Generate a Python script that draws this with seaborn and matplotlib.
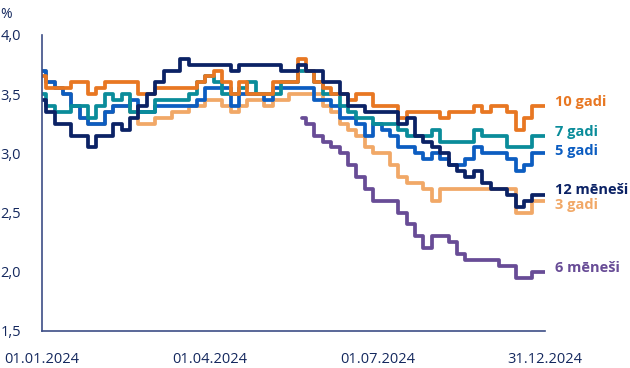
import numpy as np
import pandas as pd
import matplotlib
matplotlib.use('Agg')
import matplotlib.pyplot as plt
import seaborn as sns

# weekly-ish sampling points across 2024 (61 points, 01.01 .. 31.12)
tick_labels = ['01.01.2024', '01.04.2024', '01.07.2024', '31.12.2024']

nan = np.nan
y10 = [3.65, 3.55, 3.55, 3.55, 3.6, 3.6, 3.5, 3.55, 3.6, 3.6,
       3.6, 3.6, 3.5, 3.5, 3.55, 3.55, 3.55, 3.55, 3.55, 3.6,
       3.65, 3.7, 3.6, 3.5, 3.6, 3.5, 3.5, 3.5, 3.6, 3.6,
       3.6, 3.8, 3.7, 3.6, 3.55, 3.5, 3.5, 3.45, 3.5, 3.5,
       3.4, 3.4, 3.4, 3.3, 3.35, 3.35, 3.35, 3.35, 3.3, 3.35,
       3.35, 3.35, 3.4, 3.35, 3.4, 3.4, 3.35, 3.2, 3.3, 3.4, 3.4]
y7 = [3.5, 3.4, 3.35, 3.35, 3.4, 3.4, 3.3, 3.4, 3.5, 3.45,
      3.5, 3.35, 3.35, 3.35, 3.45, 3.45, 3.45, 3.45, 3.5, 3.6,
      3.65, 3.6, 3.5, 3.5, 3.55, 3.6, 3.5, 3.5, 3.5, 3.6,
      3.6, 3.7, 3.7, 3.6, 3.5, 3.5, 3.4, 3.35, 3.3, 3.3,
      3.25, 3.25, 3.25, 3.2, 3.15, 3.15, 3.15, 3.2, 3.1, 3.1,
      3.1, 3.1, 3.2, 3.15, 3.15, 3.15, 3.05, 3.05, 3.05, 3.15, 3.15]
y5 = [3.7, 3.6, 3.55, 3.5, 3.4, 3.3, 3.25, 3.25, 3.35, 3.4,
      3.4, 3.45, 3.35, 3.35, 3.4, 3.4, 3.4, 3.4, 3.4, 3.45,
      3.55, 3.55, 3.55, 3.4, 3.5, 3.5, 3.5, 3.45, 3.55, 3.55,
      3.55, 3.55, 3.55, 3.45, 3.45, 3.4, 3.3, 3.3, 3.25, 3.15,
      3.25, 3.2, 3.15, 3.05, 3.05, 3.0, 2.95, 3.0, 2.95, 2.9,
      2.9, 2.95, 3.05, 3.0, 3.0, 3.0, 2.95, 2.85, 2.9, 3.0, 3.0]
y12m = [3.45, 3.35, 3.25, 3.25, 3.15, 3.15, 3.05, 3.15, 3.15, 3.25,
        3.2, 3.3, 3.4, 3.5, 3.6, 3.7, 3.7, 3.8, 3.75, 3.75,
        3.75, 3.75, 3.75, 3.7, 3.75, 3.75, 3.75, 3.75, 3.75, 3.7,
        3.7, 3.75, 3.7, 3.7, 3.6, 3.6, 3.5, 3.4, 3.4, 3.35,
        3.35, 3.35, 3.35, 3.25, 3.3, 3.15, 3.1, 3.05, 3.0, 2.9,
        2.85, 2.8, 2.85, 2.75, 2.7, 2.7, 2.65, 2.55, 2.6, 2.65, 2.65]
y3 = [3.7, 3.6, 3.55, 3.5, 3.4, 3.3, 3.25, 3.25, 3.35, 3.4,
      3.4, 3.35, 3.25, 3.25, 3.3, 3.3, 3.35, 3.35, 3.4, 3.4,
      3.45, 3.45, 3.4, 3.35, 3.4, 3.45, 3.45, 3.4, 3.45, 3.45,
      3.5, 3.5, 3.5, 3.5, 3.4, 3.35, 3.25, 3.2, 3.15, 3.05,
      3.0, 3.0, 2.9, 2.8, 2.75, 2.75, 2.7, 2.6, 2.7, 2.7,
      2.7, 2.7, 2.7, 2.7, 2.7, 2.7, 2.7, 2.5, 2.5, 2.6, 2.6]
y6m = [nan] * 31 + [
       3.3, 3.25, 3.15, 3.1, 3.05, 3.0, 2.9, 2.8, 2.7,
       2.6, 2.6, 2.6, 2.5, 2.4, 2.3, 2.2, 2.3, 2.3, 2.25,
       2.15, 2.1, 2.1, 2.1, 2.1, 2.05, 2.05, 1.95, 1.95, 2.0, 2.0]

series = {
    '3 gadi': y3,
    '6 mēneši': y6m,
    '5 gadi': y5,
    '7 gadi': y7,
    '10 gadi': y10,
    '12 mēneši': y12m,
}
colors = {
    '10 gadi': '#E87722',
    '7 gadi': '#0A8C9A',
    '5 gadi': '#0C5DC1',
    '12 mēneši': '#0B2265',
    '3 gadi': '#F1A867',
    '6 mēneši': '#684C96',
}
label_shift = {'10 gadi': 0.03, '7 gadi': 0.03, '5 gadi': 0.02,
               '12 mēneši': 0.04, '3 gadi': -0.04, '6 mēneši': 0.03}

rows = []
for name, vals in series.items():
    for i, v in enumerate(vals):
        rows.append({'idx': i, 'value': v, 'series': name})
df = pd.DataFrame(rows).dropna()

sns.set_style('white')
plt.rcParams['font.family'] = ['Open Sans', 'DejaVu Sans']

axis_col = '#3D4E86'
text_col = '#14285E'

fig = plt.figure(figsize=(6.3, 3.68), dpi=100)
ax = fig.add_axes([42 / 630, 1 - 331 / 368, 503 / 630, 296 / 368])

sns.lineplot(data=df, x='idx', y='value', hue='series', hue_order=list(series.keys()),
             palette=colors, estimator=None, drawstyle='steps-mid', lw=2.7,
             solid_joinstyle='round', solid_capstyle='round',
             legend=False, ax=ax)

n = len(y10) - 1
ax.set_xlim(0, n)
ax.set_ylim(1.5, 4.0)
ax.set_xticks(np.linspace(0, n, len(tick_labels)))
ax.set_xticklabels(tick_labels)
yt = [1.5, 2.0, 2.5, 3.0, 3.5, 4.0]
ax.set_yticks(yt)
ax.set_yticklabels([f'{v:.1f}'.replace('.', ',') for v in yt])
ax.set_xlabel('')
ax.set_ylabel('')

for s in ['top', 'right']:
    ax.spines[s].set_visible(False)
for s in ['left', 'bottom']:
    ax.spines[s].set_color(axis_col)
    ax.spines[s].set_linewidth(1.2)
ax.tick_params(axis='both', colors=axis_col, labelcolor=text_col, labelsize=10.5,
               length=7, width=1.2, direction='out')
ax.tick_params(axis='y', pad=8)
ax.tick_params(axis='x', pad=8)

for name, vals in series.items():
    ax.text(n + 1.2, vals[-1] + label_shift[name], name, color=colors[name],
            fontsize=10.5, fontweight='bold', va='center', ha='left', clip_on=False)

fig.text(0.0, 1 - 15 / 368, '%', color=text_col, fontsize=10, va='center', ha='left')

fig.savefig('out.png', dpi=100)
